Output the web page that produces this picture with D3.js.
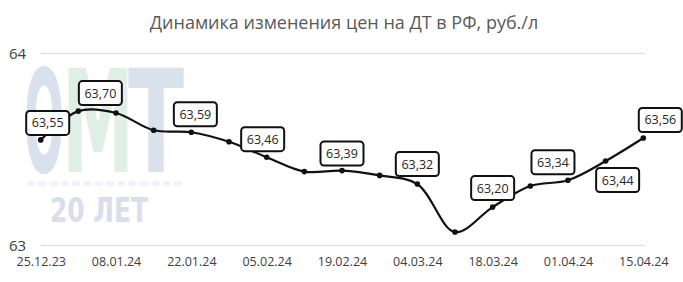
<!DOCTYPE html>
<html>
<head>
<meta charset="utf-8">
<script src="https://cdn.jsdelivr.net/npm/d3@7"></script>
<style>
  html, body { margin: 0; padding: 0; background: #fff; }
  svg { display: block; font-family: "Open Sans", "Segoe UI", sans-serif; }
</style>
</head>
<body>
<svg id="chart" width="683" height="282"></svg>
<script>
// ---- data ----
const title = "Динамика изменения цен на ДТ в РФ, руб./л";
const dates = ["25.12.23","01.01.24","08.01.24","15.01.24","22.01.24","29.01.24","05.02.24","12.02.24",
               "19.02.24","26.02.24","04.03.24","11.03.24","18.03.24","25.03.24","01.04.24","08.04.24","15.04.24"];
const prices = [63.55, 63.70, 63.69, 63.60, 63.59, 63.54, 63.46, 63.385,
                63.39, 63.365, 63.32, 63.07, 63.20, 63.31, 63.34, 63.44, 63.56];
const yTicks = [63, 64];
const xTickLabels = dates.filter((d, i) => i % 2 === 0);
const labelledIdx = [0, 1, 4, 6, 8, 10, 12, 14, 15, 16];
// label placement (offset of label centre from its point, px)
const labelOffsets = [[7,-17],[22,-18],[4,-18],[-4,-18],[0,-17],[0,-20],[0,-19],[-15,-18],[12,19],[17,-18]];

// ---- layout ----
const svg = d3.select("#chart");
const x = d3.scalePoint().domain(dates).range([40.7, 643.3]);
const y = d3.scaleLinear().domain([63, 64]).range([245.5, 53.5]);

// watermark (logo text)
const wm = svg.append("g").attr("font-family", "'DejaVu Sans', sans-serif").attr("font-weight", "bold");
function wmText(str, x0, x1, baseline, capH, color) {
  const fs = capH / 0.73;
  wm.append("text").text(str).attr("x", x0).attr("y", baseline).attr("font-size", fs)
    .attr("fill", color).attr("textLength", x1 - x0).attr("lengthAdjust", "spacingAndGlyphs");
}
wmText("О", 24, 64, 172, 104, "#d9e1ec");
wmText("М", 62, 134, 172, 104, "#dfeee6");
wmText("Т", 128, 184, 172, 104, "#d9e1ec");
wm.append("g").selectAll("rect").data(d3.range(14)).join("rect")
  .attr("x", i => 27 + i * 11.3).attr("y", 181).attr("width", 8).attr("height", 5).attr("fill", "#f1f3f8");
wmText("20 ЛЕТ", 50, 148, 222, 24, "#d8deeb");

// title
svg.append("text").attr("x", 344).attr("y", 29).attr("text-anchor", "middle")
  .attr("font-size", 18).attr("fill", "#595959").text(title);

// gridlines
svg.append("g").selectAll("line").data(yTicks).join("line")
  .attr("x1", x(dates[0])).attr("x2", x(dates[dates.length - 1]) + 2)
  .attr("y1", d => y(d)).attr("y2", d => y(d))
  .attr("stroke", "#d9d9d9").attr("stroke-width", 1);

// y labels
svg.append("g").selectAll("text").data(yTicks).join("text")
  .attr("x", 9).attr("y", d => y(d) + 5.5).attr("font-size", 15).attr("fill", "#404040")
  .text(d => d);

// x axis labels
const xAxis = d3.axisBottom(x).tickValues(xTickLabels).tickSize(0).tickPadding(0);
const gx = svg.append("g").attr("transform", "translate(0,257)").call(xAxis);
gx.select(".domain").remove();
gx.selectAll("text").attr("font-size", 12.5).attr("fill", "#404040")
  .attr("font-family", "'Open Sans', sans-serif");

// line
const line = d3.line().x((d, i) => x(dates[i])).y(d => y(d)).curve(d3.curveCatmullRom.alpha(0.5));
svg.append("path").datum(prices).attr("d", line)
  .attr("fill", "none").attr("stroke", "#111").attr("stroke-width", 2.2);

// markers
svg.append("g").selectAll("circle").data(prices).join("circle")
  .attr("cx", (d, i) => x(dates[i])).attr("cy", d => y(d)).attr("r", 2.8).attr("fill", "#111");

// data labels
const fmt = v => d3.format(".2f")(v).replace(".", ",");
const lg = svg.append("g").selectAll("g").data(labelledIdx).join("g")
  .attr("transform", (idx, k) => `translate(${x(dates[idx]) + labelOffsets[k][0]},${y(prices[idx]) + labelOffsets[k][1]})`);
lg.append("rect").attr("x", -21.5).attr("y", -12).attr("width", 43).attr("height", 24).attr("rx", 3.5)
  .attr("fill", "#fff").attr("stroke", "#111").attr("stroke-width", 2);
lg.append("text").attr("text-anchor", "middle").attr("y", 4.5).attr("font-size", 12.5).attr("fill", "#262626")
  .text(idx => fmt(prices[idx]));
</script>
</body>
</html>
